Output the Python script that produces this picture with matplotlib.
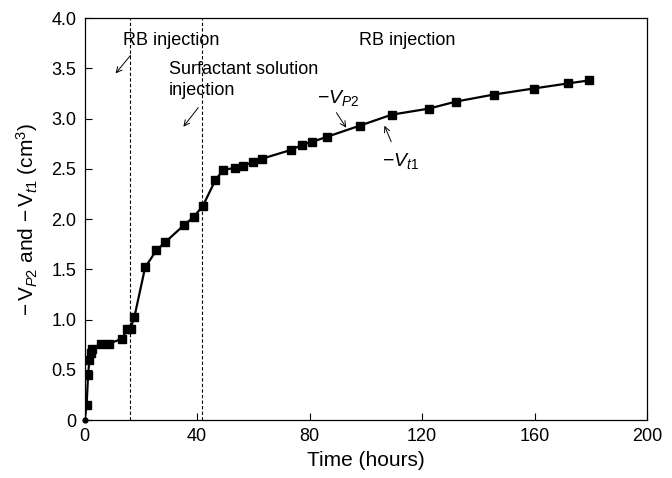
import matplotlib
matplotlib.use("Agg")
import matplotlib.pyplot as plt

plt.rcParams['font.family'] = ['Liberation Sans', 'DejaVu Sans']
plt.rcParams['mathtext.fontset'] = 'custom'
plt.rcParams['mathtext.rm'] = 'Liberation Sans'
plt.rcParams['mathtext.it'] = 'Liberation Sans:italic'

# data
time_h = [0, 0.7, 1.2, 1.7, 2.1, 2.6, 5.7, 8.5, 13.3, 15.2, 16.3, 17.7, 21.5,
          25.5, 28.6, 35.3, 38.7, 42.0, 46.5, 49.3, 53.4, 56.3, 60.0, 62.9,
          73.5, 77.3, 81.0, 86.2, 97.8, 109.2, 122.4, 132.0, 145.5, 159.6,
          171.7, 179.2]
volume = [0, 0.15, 0.45, 0.60, 0.67, 0.71, 0.76, 0.76, 0.81, 0.91, 0.91, 1.03,
          1.52, 1.69, 1.77, 1.94, 2.02, 2.13, 2.39, 2.49, 2.51, 2.53, 2.57,
          2.60, 2.69, 2.74, 2.77, 2.82, 2.93, 3.04, 3.10, 3.17, 3.24, 3.30,
          3.35, 3.38]
injections = [16.2, 41.8]
x_ticks = [0, 40, 80, 120, 160, 200]
y_ticks = [0, 0.5, 1.0, 1.5, 2.0, 2.5, 3.0, 3.5, 4.0]
y_labels = ['0', '0.5', '1.0', '1.5', '2.0', '2.5', '3.0', '3.5', '4.0']

fig = plt.figure(figsize=(6.72, 4.78), dpi=100)
ax = fig.add_axes([0.126, 0.121, 0.837, 0.841])

for t in injections:
    ax.axvline(t, color='black', lw=0.8, ls=(0, (3, 2)), zorder=1)

ax.plot(time_h, volume, color='black', lw=1.6, marker='s', ms=5.5,
        markevery=list(range(1, len(time_h))), zorder=3)
ax.plot(time_h[:1], volume[:1], 'o', color='black', ms=3.5, zorder=4,
        clip_on=False)

arrow = dict(arrowstyle='->', lw=0.7, color='black', shrinkA=0, shrinkB=0)
ax.text(30.9, 3.78, 'RB injection', fontsize=13, ha='center', va='center')
ax.annotate('', xy=(11.0, 3.45), xytext=(16.3, 3.63), arrowprops=arrow)
ax.text(30.0, 3.385, 'Surfactant solution\ninjection', fontsize=13,
        ha='left', va='center', linespacing=1.3)
ax.annotate('', xy=(35.1, 2.92), xytext=(40.4, 3.11), arrowprops=arrow)
ax.text(114.8, 3.78, 'RB injection', fontsize=13, ha='center', va='center')
ax.text(90.3, 3.21, r'$-V_{P2}$', fontsize=14, ha='center', va='center')
ax.annotate('', xy=(93.0, 2.91), xytext=(89.5, 3.06), arrowprops=arrow)
ax.text(112.3, 2.58, r'$-V_{t1}$', fontsize=14, ha='center', va='center')
ax.annotate('', xy=(106.6, 2.93), xytext=(109.0, 2.77), arrowprops=arrow)

ax.set_xlim(0, 200)
ax.set_ylim(0, 4.0)
ax.set_xticks(x_ticks)
ax.set_yticks(y_ticks)
ax.set_yticklabels(y_labels)
ax.tick_params(direction='in', length=5, width=0.8, labelsize=13, pad=6)
ax.set_xlabel('Time (hours)', fontsize=15, labelpad=4)
ax.set_ylabel(r'$-\,$V$_{P\mathrm{2}}$ and $-\,$V$_{t\mathrm{1}}$ (cm$^3$)',
              fontsize=15, labelpad=8)
for s in ax.spines.values():
    s.set_linewidth(0.9)

fig.savefig('out.png', dpi=100)
